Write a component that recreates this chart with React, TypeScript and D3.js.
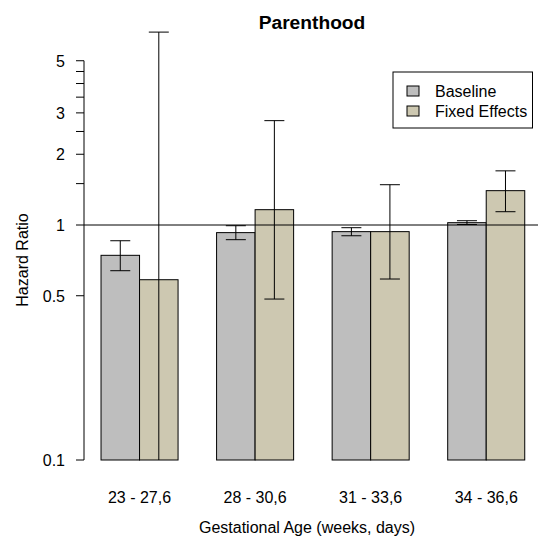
import React from "react";
import { scaleBand, scaleLog } from "d3";

const groups = ["23 - 27,6", "28 - 30,6", "31 - 33,6", "34 - 36,6"];
const series = ["Baseline", "Fixed Effects"];
const colors = ["#bebebe", "#cdc8b1"];
// hazard ratio estimates and 95% CI per group
const baseline = [0.743, 0.928, 0.937, 1.023];
const baselineLo = [0.639, 0.866, 0.9, 1.005];
const baselineHi = [0.857, 0.993, 0.974, 1.043];
const fixed = [0.585, 1.162, 0.937, 1.4];
const fixedLo = [0.05, 0.484, 0.589, 1.139];
const fixedHi = [6.62, 2.78, 1.484, 1.7];
const majorTicks = [0.1, 0.5, 1, 2, 3, 5];
const minorTicks = [1.5, 2.5, 3.5, 4, 4.5];

const width = 538;
const height = 537;
const axisX = 84;
const font = "Liberation Sans, Arial, sans-serif";

const App = () => {
  const y = scaleLog().domain([0.1, 1]).range([460, 225]);
  const x = scaleBand()
    .domain(groups)
    .range([62.5, 62.5 + 115.56 * (4 + 1 / 3)])
    .paddingInner(1 / 3)
    .paddingOuter(1 / 3);
  const inner = scaleBand().domain(series).range([0, x.bandwidth()]);
  const clip = (v: number) => Math.max(v, 0.1);

  const values = [baseline, fixed];
  const lows = [baselineLo, fixedLo];
  const highs = [baselineHi, fixedHi];

  return (
    <svg width={width} height={height} style={{ position: "absolute", left: 0, top: 0, background: "#fff" }}>
      <rect width={width} height={height} fill="#fff" />
      <text x={312} y={29} textAnchor="middle" fontFamily={font} fontWeight="bold" fontSize={19.2}>
        Parenthood
      </text>

      {groups.map((g, i) => (
        <g key={g}>
          {series.map((s, j) => {
            const x0 = (x(g) as number) + (inner(s) as number);
            const v = values[j][i];
            return (
              <rect
                key={s}
                x={x0}
                y={y(v)}
                width={inner.bandwidth()}
                height={y(0.1) - y(v)}
                fill={colors[j]}
                stroke="#000"
                strokeWidth={1}
              />
            );
          })}
        </g>
      ))}

      <line x1={axisX} x2={width} y1={y(1)} y2={y(1)} stroke="#000" strokeWidth={1} />

      {groups.map((g, i) => (
        <g key={g + "err"}>
          {series.map((s, j) => {
            const cx = (x(g) as number) + (inner(s) as number) + inner.bandwidth() / 2;
            const lo = lows[j][i];
            const hi = highs[j][i];
            return (
              <g key={s} stroke="#000" strokeWidth={1}>
                <line x1={cx} x2={cx} y1={y(clip(lo))} y2={y(hi)} />
                <line x1={cx - 10} x2={cx + 10} y1={y(hi)} y2={y(hi)} />
                {lo >= 0.1 && <line x1={cx - 10} x2={cx + 10} y1={y(lo)} y2={y(lo)} />}
              </g>
            );
          })}
          <text
            x={(x(g) as number) + x.bandwidth() / 2}
            y={503}
            textAnchor="middle"
            fontFamily={font}
            fontSize={16}
          >
            {g}
          </text>
        </g>
      ))}

      <g>
        <line x1={axisX} x2={axisX} y1={y(0.1)} y2={y(5)} stroke="#000" />
        {[...majorTicks, ...minorTicks].map((t) => (
          <line key={t} x1={axisX - 8} x2={axisX} y1={y(t)} y2={y(t)} stroke="#000" />
        ))}
        {majorTicks.map((t) => (
          <text key={t} x={65} y={y(t)} dy="0.36em" textAnchor="end" fontFamily={font} fontSize={16}>
            {t}
          </text>
        ))}
      </g>

      <text
        transform={`translate(28,260) rotate(-90)`}
        textAnchor="middle"
        fontFamily={font}
        fontSize={16}
      >
        Hazard Ratio
      </text>
      <text x={307} y={533} textAnchor="middle" fontFamily={font} fontSize={16}>
        Gestational Age (weeks, days)
      </text>

      <g>
        <rect x={393} y={72} width={139.5} height={56} fill="#fff" stroke="#000" />
        {series.map((s, j) => (
          <g key={s} transform={`translate(407,${91 + j * 20})`}>
            <rect x={0} y={-5} width={12} height={10} fill={colors[j]} stroke="#000" />
            <text x={28} y={0} dy="0.36em" fontFamily={font} fontSize={16}>
              {s}
            </text>
          </g>
        ))}
      </g>
    </svg>
  );
};

export default App;
